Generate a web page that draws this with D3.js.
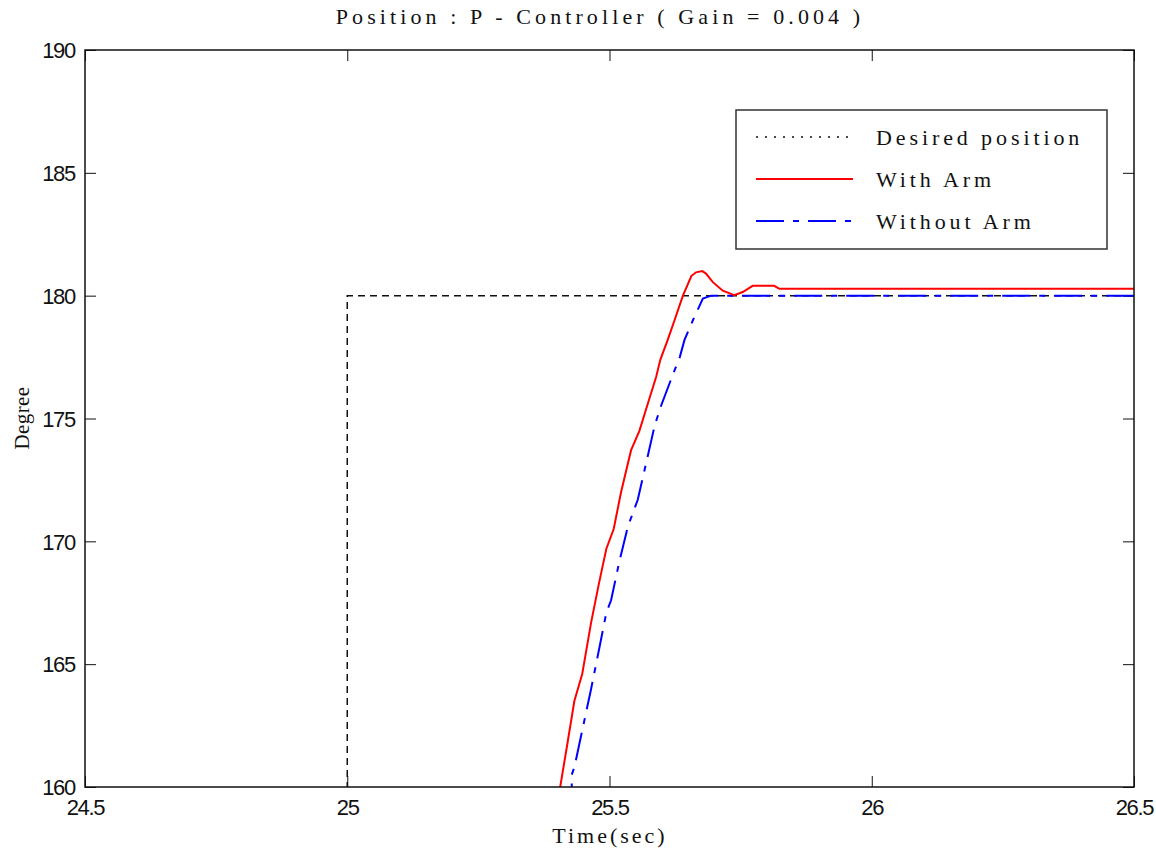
<!DOCTYPE html>
<html>
<head>
<meta charset="utf-8">
<script src="https://cdn.jsdelivr.net/npm/d3@7"></script>
<style>
  html, body { margin: 0; padding: 0; background: #fff; }
  svg { display: block; }
  .serif { font-family: "Liberation Serif", "Times New Roman", serif; fill: #111; }
  .tick-label { font-family: "Liberation Sans", Arial, sans-serif; font-size: 22px; letter-spacing: -1.3px; fill: #111; }
</style>
</head>
<body>
<script>
// Step response of the position loop (P-controller, gain 0.004)
const stepTime = [24.5, 25, 25, 26.5];
const stepDeg  = [90, 90, 180, 180];

const armTime = [25.400, 25.406, 25.420, 25.433, 25.448, 25.465, 25.480, 25.494, 25.508, 25.522,
                 25.541, 25.557, 25.573, 25.589, 25.597, 25.611, 25.624, 25.640, 25.656, 25.665,
                 25.677, 25.684, 25.697, 25.716, 25.738, 25.754, 25.773, 25.814, 25.824, 26.500];
const armDeg  = [159.2, 160.0, 161.8, 163.5, 164.6, 166.7, 168.3, 169.7, 170.5, 172.0,
                 173.7, 174.5, 175.6, 176.7, 177.4, 178.2, 179.0, 180.0, 180.8, 180.95,
                 181.0, 180.9, 180.55, 180.2, 180.02, 180.15, 180.4, 180.4, 180.28, 180.28];

const noArmTime = [25.428, 25.428, 25.433, 25.449, 25.465, 25.481, 25.494, 25.503, 25.519, 25.535,
                   25.554, 25.570, 25.586, 25.598, 25.621, 25.634, 25.643, 25.659, 25.678, 25.694, 26.500];
const noArmDeg  = [159.0, 160.5, 160.8, 162.4, 164.0, 165.7, 167.1, 167.6, 169.2, 170.6,
                   171.7, 173.2, 174.7, 175.5, 176.8, 177.5, 178.2, 179.0, 179.88, 180.0, 180.0];

const xTicks = [24.5, 25, 25.5, 26, 26.5];
const yTicks = [160, 165, 170, 175, 180, 185, 190];

const titleText = "Position : P - Controller ( Gain = 0.004 )";
const xLabel = "Time(sec)";
const yLabel = "Degree";
const legendNames = ["Desired position", "With Arm", "Without Arm"];

const W = 1156, H = 851;
const m = { left: 85, top: 50, right: 1134, bottom: 787 };

const svg = d3.select("body").append("svg").attr("width", W).attr("height", H);

const x = d3.scaleLinear().domain([24.5, 26.5]).range([m.left, m.right]);
const y = d3.scaleLinear().domain([160, 190]).range([m.bottom, m.top]);

svg.append("defs").append("clipPath").attr("id", "plot-clip")
  .append("rect")
  .attr("x", m.left).attr("y", m.top)
  .attr("width", m.right - m.left).attr("height", m.bottom - m.top);

// axes with inward ticks on all four sides
const tickLen = 11;
const axisBottom = d3.axisBottom(x).tickValues(xTicks).tickSize(-tickLen).tickPadding(12).tickFormat(d3.format("~g"));
const axisTop = d3.axisTop(x).tickValues(xTicks).tickSize(-tickLen).tickFormat("");
const axisLeft = d3.axisLeft(y).tickValues(yTicks).tickSize(-tickLen).tickPadding(10).tickFormat(d3.format("d"));
const axisRight = d3.axisRight(y).tickValues(yTicks).tickSize(-tickLen).tickFormat("");

function styleAxis(g) {
  g.select(".domain").remove();
  g.selectAll(".tick line").attr("stroke", "#111").attr("stroke-width", 1);
  g.selectAll(".tick text").attr("class", "tick-label").attr("fill", null);
}

svg.append("g").attr("transform", `translate(0,${m.bottom})`).call(axisBottom).call(styleAxis)
  .selectAll(".tick text").attr("dy", "0.71em");
svg.append("g").attr("transform", `translate(0,${m.top})`).call(axisTop).call(styleAxis);
svg.append("g").attr("transform", `translate(${m.left},0)`).call(axisLeft).call(styleAxis)
  .selectAll(".tick text").attr("dy", "0.35em");
svg.append("g").attr("transform", `translate(${m.right},0)`).call(axisRight).call(styleAxis);

const plot = svg.append("g").attr("clip-path", "url(#plot-clip)");
const line = d3.line().x(d => x(d[0])).y(d => y(d[1]));

// desired position (step)
plot.append("path")
  .datum(d3.zip(stepTime, stepDeg))
  .attr("d", line).attr("fill", "none")
  .attr("stroke", "#111").attr("stroke-width", 1.5)
  .attr("stroke-dasharray", "7,5");

// without arm
plot.append("path")
  .datum(d3.zip(noArmTime, noArmDeg))
  .attr("d", line).attr("fill", "none")
  .attr("stroke", "#0000ff").attr("stroke-width", 2)
  .attr("stroke-dasharray", "28,9,6,9");

// with arm
plot.append("path")
  .datum(d3.zip(armTime, armDeg))
  .attr("d", line).attr("fill", "none")
  .attr("stroke", "#ff0000").attr("stroke-width", 2);

// frame
svg.append("rect")
  .attr("x", m.left).attr("y", m.top)
  .attr("width", m.right - m.left).attr("height", m.bottom - m.top)
  .attr("fill", "none").attr("stroke", "#111").attr("stroke-width", 1.5);

// title and axis labels
svg.append("text").attr("class", "serif")
  .attr("x", 600).attr("y", 24).attr("text-anchor", "middle")
  .style("font-size", "22px").style("letter-spacing", "4.1px")
  .text(titleText);

svg.append("text").attr("class", "serif")
  .attr("x", 610).attr("y", 843).attr("text-anchor", "middle")
  .style("font-size", "22px").style("letter-spacing", "3px")
  .text(xLabel);

svg.append("text").attr("class", "serif")
  .attr("transform", "translate(29,418) rotate(-90)").attr("text-anchor", "middle")
  .style("font-size", "21px").style("letter-spacing", "0.4px")
  .text(yLabel);

// legend
const legend = svg.append("g");
legend.append("rect")
  .attr("x", 736).attr("y", 110).attr("width", 371).attr("height", 139)
  .attr("fill", "#fff").attr("stroke", "#333").attr("stroke-width", 1.5);

const legendStyles = [
  { stroke: "#111", dash: "2,7", width: 1.5 },
  { stroke: "#ff0000", dash: null, width: 2 },
  { stroke: "#0000ff", dash: "28,9,6,9", width: 2 }
];
const rowY = d3.scalePoint().domain(legendNames).range([137, 221]);

legendNames.forEach((name, i) => {
  const yy = rowY(name);
  legend.append("line")
    .attr("x1", 756).attr("x2", 853).attr("y1", yy).attr("y2", yy)
    .attr("stroke", legendStyles[i].stroke).attr("stroke-width", legendStyles[i].width)
    .attr("stroke-dasharray", legendStyles[i].dash);
  legend.append("text").attr("class", "serif")
    .attr("x", 876).attr("y", yy + 8)
    .style("font-size", "22px").style("letter-spacing", "3.9px")
    .text(name);
});
</script>
</body>
</html>
